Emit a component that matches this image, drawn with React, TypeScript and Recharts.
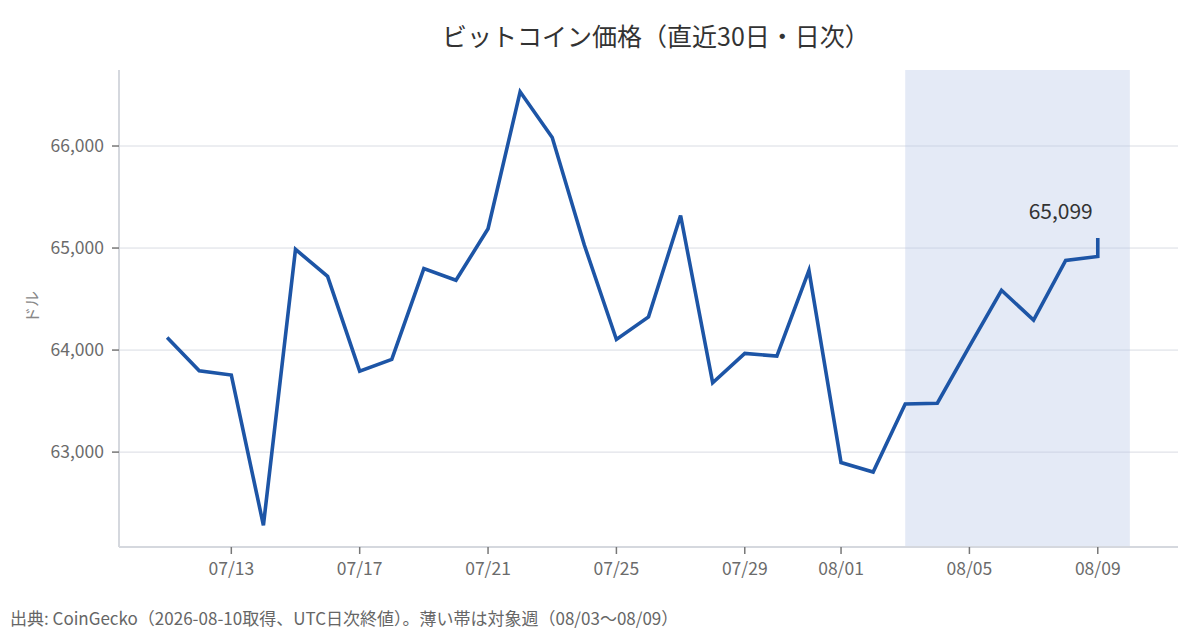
import { LineChart, Line, XAxis, YAxis, CartesianGrid, ReferenceArea, LabelList } from 'recharts';

// 日次終値（USD）。最後の点は 08/09 の最新値
const dates = [
  '07/11', '07/12', '07/13', '07/14', '07/15', '07/16', '07/17', '07/18', '07/19', '07/20',
  '07/21', '07/22', '07/23', '07/24', '07/25', '07/26', '07/27', '07/28', '07/29', '07/30',
  '07/31', '08/01', '08/02', '08/03', '08/04', '08/05', '08/06', '08/07', '08/08', '08/09', '08/09',
];
const prices = [
  64124, 63797, 63755, 62283, 64987, 64723, 63794, 63909, 64798, 64684,
  65189, 66531, 66084, 65030, 64104, 64325, 65319, 63680, 63967, 63941,
  64781, 62898, 62805, 63472, 63479, 64036, 64586, 64293, 64879, 64918, 65099,
];
const xTickLabels = ['07/13', '07/17', '07/21', '07/25', '07/29', '08/01', '08/05', '08/09'];
const yTicks = [63000, 64000, 65000, 66000];
const highlightWeek = ['08/03', '08/10'];

const FONT = '"Noto Sans CJK JP", "Noto Sans", sans-serif';

function dayOffset(label: string) {
  const [m, d] = label.split('/').map(Number);
  return m === 7 ? d - 11 : 20 + d;
}

const data = dates.map((d, i) => ({ day: dayOffset(d), date: d, price: prices[i] }));
const tickDays = xTickLabels.map(dayOffset);
const lastIndex = data.length - 1;

const fmt = (v: number) => v.toLocaleString('en-US');

function LastLabel(props: any) {
  const { x, y, index } = props;
  if (index !== lastIndex) return null;
  return (
    <text x={x - 5} y={y - 19} textAnchor="end" fontSize={21} fill="#333" fontFamily={FONT}>
      {fmt(prices[lastIndex])}
    </text>
  );
}

export default function App() {
  return (
    <div style={{ position: 'absolute', left: 0, top: 0, width: 1200, height: 630, background: '#fff', fontFamily: FONT }}>
      <div style={{ position: 'absolute', left: 442, width: 400, top: 17, textAlign: 'center', fontSize: 25, color: '#333', whiteSpace: 'nowrap' }}>
        ビットコイン価格（直近30日・日次）
      </div>
      <div style={{ position: 'absolute', left: 31, top: 307, transform: 'translate(-50%, -50%) rotate(-90deg)', fontSize: 16, color: '#888', whiteSpace: 'nowrap' }}>
        ドル
      </div>
      <LineChart width={1200} height={630} data={data} margin={{ top: 70, right: 22, bottom: 43, left: 39 }}>
        <CartesianGrid vertical={false} stroke="#d9dce3" horizontalValues={yTicks} />
        <ReferenceArea
          x1={dayOffset(highlightWeek[0])}
          x2={dayOffset(highlightWeek[1])}
          fill="#b8c8e8"
          fillOpacity={0.38}
          stroke="none"
        />
        <XAxis
          dataKey="day"
          type="number"
          domain={[-1.5, 31.5]}
          ticks={tickDays}
          tickFormatter={(v) => xTickLabels[tickDays.indexOf(v)] ?? ''}
          height={40}
          tickSize={7}
          tickMargin={9}
          stroke="#d5d8de"
          strokeWidth={2}
          tickLine={{ stroke: '#777', strokeWidth: 1.5 }}
          tick={{ fill: '#6b6b6b', fontSize: 17.5, fontFamily: FONT }}
          allowDuplicatedCategory
        />
        <YAxis
          type="number"
          domain={[62070, 66745]}
          ticks={yTicks}
          tickFormatter={fmt}
          width={80}
          tickSize={7}
          tickMargin={8}
          stroke="#d5d8de"
          strokeWidth={2}
          tickLine={{ stroke: '#777', strokeWidth: 1.5 }}
          tick={{ fill: '#6b6b6b', fontSize: 17.5, fontFamily: FONT }}
        />
        <Line
          type="linear"
          dataKey="price"
          stroke="#1d55a6"
          strokeWidth={3.6}
          dot={false}
          activeDot={false}
          isAnimationActive={false}
        >
          <LabelList dataKey="price" content={LastLabel} />
        </Line>
      </LineChart>
      <div style={{ position: 'absolute', left: 10, top: 605, fontSize: 17, color: '#666', whiteSpace: 'nowrap' }}>
        出典: CoinGecko（2026-08-10取得、UTC日次終値）。薄い帯は対象週（08/03〜08/09）
      </div>
    </div>
  );
}
